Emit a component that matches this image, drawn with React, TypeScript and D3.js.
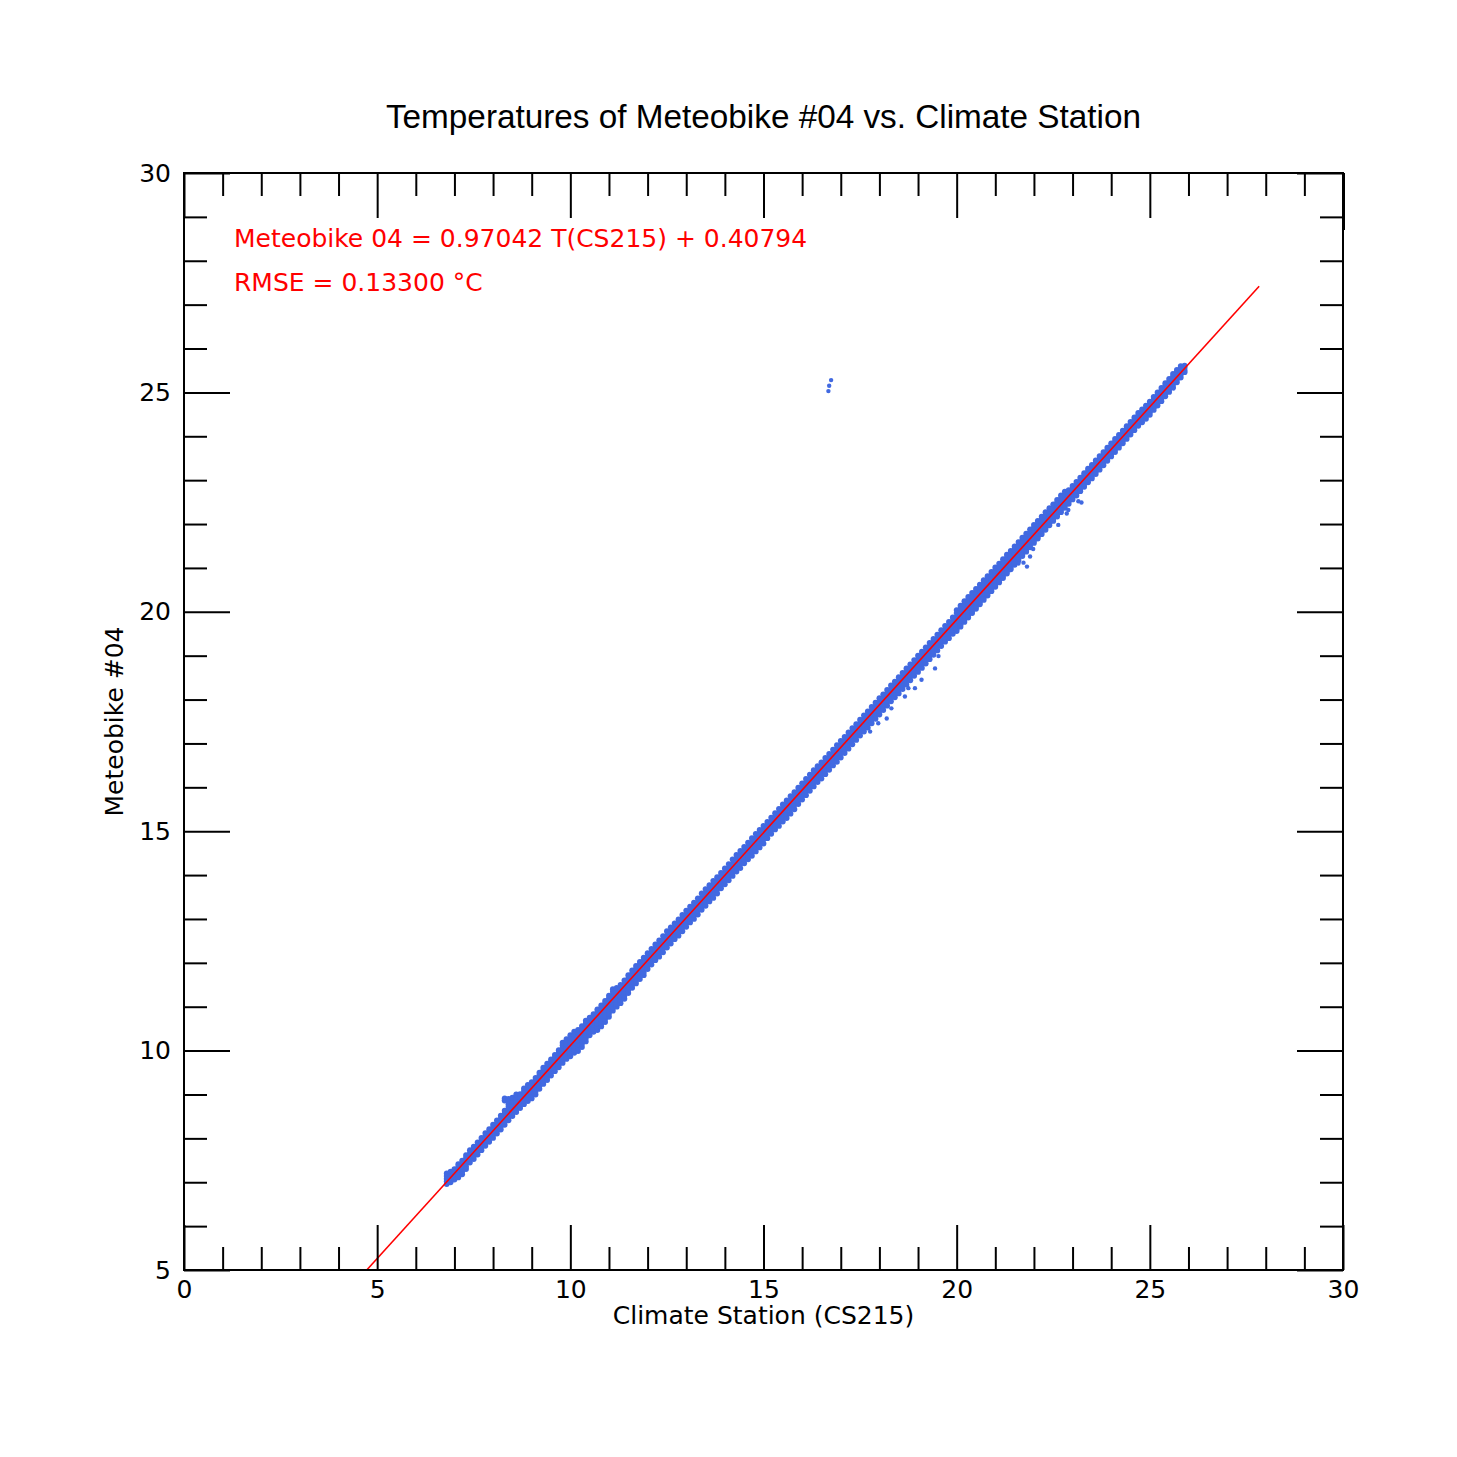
import { useEffect, useRef } from "react";
import * as d3 from "d3";

// Climate station temperature (first value) and the Meteobike readings logged at it
const bandRows: number[][] = [
  [6.8, 6.96, 7.02, 7.08, 7.14, 7.20], [6.9, 7.00, 7.06, 7.12, 7.18, 7.24], [7.0, 7.06, 7.12, 7.18, 7.24, 7.30],
  [7.1, 7.11, 7.17, 7.23, 7.29, 7.35, 7.41], [7.2, 7.18, 7.24, 7.30, 7.36, 7.43, 7.49], [7.3, 7.30, 7.36, 7.43, 7.50, 7.56, 7.62],
  [7.4, 7.45, 7.52, 7.59, 7.66, 7.73], [7.5, 7.53, 7.60, 7.67, 7.74, 7.81], [7.6, 7.63, 7.70, 7.77, 7.84, 7.91],
  [7.7, 7.73, 7.80, 7.87, 7.94, 8.01], [7.8, 7.83, 7.90, 7.97, 8.05, 8.12], [7.9, 7.92, 7.99, 8.06, 8.14, 8.21],
  [8.0, 8.01, 8.08, 8.16, 8.24, 8.31], [8.1, 8.11, 8.18, 8.26, 8.34, 8.41], [8.2, 8.20, 8.27, 8.36, 8.45, 8.52],
  [8.3, 8.31, 8.38, 8.47, 8.56, 8.63, 8.86, 8.91], [8.4, 8.41, 8.48, 8.56, 8.65, 8.72, 8.78, 8.84, 8.90],
  [8.5, 8.51, 8.58, 8.66, 8.75, 8.84, 8.93], [8.6, 8.60, 8.67, 8.75, 8.84, 8.94, 9.00], [8.7, 8.69, 8.76, 8.85, 8.94, 9.01],
  [8.8, 8.78, 8.85, 8.93, 9.01, 9.08, 9.14], [8.9, 8.85, 8.92, 9.00, 9.08, 9.16, 9.22], [9.0, 8.91, 8.98, 9.06, 9.14, 9.22, 9.28],
  [9.1, 9.00, 9.07, 9.15, 9.23, 9.32, 9.38], [9.2, 9.13, 9.20, 9.28, 9.36, 9.44, 9.50], [9.3, 9.24, 9.31, 9.39, 9.47, 9.55, 9.61],
  [9.4, 9.33, 9.40, 9.48, 9.56, 9.64, 9.70], [9.5, 9.43, 9.50, 9.58, 9.66, 9.74, 9.80], [9.6, 9.53, 9.60, 9.68, 9.76, 9.84, 9.90],
  [9.7, 9.62, 9.69, 9.77, 9.86, 9.95, 10.01], [9.8, 9.72, 9.79, 9.87, 9.96, 10.05, 10.12, 10.18],
  [9.9, 9.81, 9.88, 9.96, 10.05, 10.14, 10.20, 10.26], [10.0, 9.87, 9.94, 10.03, 10.12, 10.21, 10.29, 10.35],
  [10.1, 9.95, 10.02, 10.10, 10.19, 10.28, 10.37, 10.43], [10.2, 9.99, 10.06, 10.14, 10.23, 10.32, 10.41, 10.47],
  [10.3, 10.08, 10.15, 10.23, 10.32, 10.41, 10.50, 10.56], [10.4, 10.21, 10.28, 10.36, 10.45, 10.54, 10.62, 10.68],
  [10.5, 10.35, 10.42, 10.51, 10.60, 10.69, 10.75], [10.6, 10.43, 10.50, 10.59, 10.68, 10.77, 10.83],
  [10.7, 10.47, 10.54, 10.62, 10.70, 10.79, 10.88, 10.94], [10.8, 10.55, 10.62, 10.70, 10.79, 10.88, 10.97, 11.03],
  [10.9, 10.65, 10.72, 10.80, 10.89, 10.98, 11.07, 11.13], [11.0, 10.77, 10.84, 10.92, 11.01, 11.10, 11.19, 11.25],
  [11.1, 10.91, 10.98, 11.07, 11.16, 11.25, 11.34, 11.40], [11.2, 11.00, 11.07, 11.15, 11.24, 11.33, 11.43],
  [11.3, 11.08, 11.15, 11.23, 11.32, 11.41, 11.50], [11.4, 11.18, 11.25, 11.33, 11.42, 11.51, 11.60],
  [11.5, 11.31, 11.38, 11.46, 11.55, 11.64, 11.72], [11.6, 11.43, 11.50, 11.58, 11.67, 11.76, 11.83],
  [11.7, 11.53, 11.60, 11.68, 11.77, 11.86, 11.93], [11.8, 11.63, 11.70, 11.78, 11.87, 11.96, 12.02],
  [11.9, 11.72, 11.78, 11.87, 11.96, 12.05, 12.12],
  [12.0, 11.86, 11.95, 12.04, 12.13, 12.22], [12.1, 11.96, 12.05, 12.14, 12.23, 12.32],
  [12.2, 12.06, 12.15, 12.24, 12.33, 12.42], [12.3, 12.14, 12.23, 12.32, 12.41, 12.51],
  [12.4, 12.24, 12.33, 12.42, 12.51, 12.61], [12.5, 12.35, 12.44, 12.53, 12.62, 12.72],
  [12.6, 12.44, 12.53, 12.62, 12.72, 12.81], [12.7, 12.54, 12.63, 12.72, 12.81, 12.90],
  [12.8, 12.62, 12.71, 12.80, 12.90, 12.99], [12.9, 12.72, 12.81, 12.90, 13.00, 13.09],
  [13.0, 12.82, 12.91, 13.00, 13.10, 13.19], [13.1, 12.92, 13.01, 13.10, 13.19, 13.28],
  [13.2, 13.00, 13.09, 13.18, 13.27, 13.37], [13.3, 13.10, 13.19, 13.28, 13.37, 13.47],
  [13.4, 13.21, 13.30, 13.39, 13.48, 13.58], [13.5, 13.30, 13.39, 13.48, 13.58, 13.68],
  [13.6, 13.40, 13.49, 13.58, 13.67, 13.77], [13.7, 13.48, 13.57, 13.67, 13.77, 13.87],
  [13.8, 13.58, 13.67, 13.77, 13.86, 13.95], [13.9, 13.70, 13.79, 13.88, 13.97, 14.05],
  [14.0, 13.79, 13.88, 13.97, 14.06, 14.15], [14.1, 13.88, 13.97, 14.07, 14.16, 14.25],
  [14.2, 13.98, 14.07, 14.16, 14.26, 14.36], [14.3, 14.08, 14.17, 14.26, 14.36, 14.46],
  [14.4, 14.16, 14.26, 14.36, 14.46, 14.55], [14.5, 14.27, 14.36, 14.46, 14.55, 14.64],
  [14.6, 14.36, 14.46, 14.56, 14.65, 14.74], [14.7, 14.44, 14.54, 14.64, 14.74, 14.84],
  [14.8, 14.54, 14.64, 14.74, 14.84, 14.94], [14.9, 14.63, 14.73, 14.83, 14.93, 15.03],
  [15.0, 14.72, 14.82, 14.92, 15.02, 15.12], [15.1, 14.84, 14.93, 15.03, 15.12, 15.21],
  [15.2, 14.94, 15.03, 15.13, 15.22, 15.31], [15.3, 15.04, 15.13, 15.23, 15.32, 15.41],
  [15.4, 15.12, 15.22, 15.32, 15.42, 15.51], [15.5, 15.22, 15.32, 15.42, 15.52, 15.61],
  [15.6, 15.30, 15.40, 15.50, 15.60, 15.70], [15.7, 15.40, 15.50, 15.60, 15.70, 15.80],
  [15.8, 15.50, 15.60, 15.70, 15.80, 15.89], [15.9, 15.62, 15.71, 15.81, 15.90, 15.99],
  [16.0, 15.72, 15.81, 15.91, 16.00, 16.09], [16.1, 15.82, 15.91, 16.01, 16.10, 16.19],
  [16.2, 15.92, 16.01, 16.11, 16.20, 16.29], [16.3, 16.02, 16.11, 16.21, 16.30, 16.39],
  [16.4, 16.12, 16.21, 16.30, 16.39, 16.48], [16.5, 16.20, 16.29, 16.39, 16.48, 16.57],
  [16.6, 16.30, 16.39, 16.49, 16.58, 16.67], [16.7, 16.40, 16.49, 16.58, 16.67, 16.76],
  [16.8, 16.50, 16.59, 16.68, 16.77, 16.86], [16.9, 16.58, 16.68, 16.78, 16.87, 16.96],
  [17.0, 16.68, 16.78, 16.88, 16.97, 17.06], [17.1, 16.78, 16.88, 16.97, 17.06, 17.15],
  [17.2, 16.88, 16.98, 17.07, 17.16, 17.25], [17.3, 16.98, 17.08, 17.17, 17.26, 17.35],
  [17.4, 17.08, 17.17, 17.26, 17.35, 17.44], [17.5, 17.18, 17.27, 17.36, 17.45, 17.54],
  [17.6, 17.27, 17.36, 17.46, 17.55, 17.64], [17.7, 17.36, 17.45, 17.55, 17.64, 17.73],
  [17.8, 17.46, 17.55, 17.65, 17.74, 17.83], [17.9, 17.56, 17.65, 17.75, 17.84, 17.93],
  [18.0, 17.66, 17.75, 17.85, 17.94, 18.03], [18.1, 17.76, 17.85, 17.94, 18.03, 18.12],
  [18.2, 17.86, 17.95, 18.04, 18.13, 18.22], [18.3, 17.96, 18.05, 18.14, 18.23, 18.32],
  [18.4, 18.05, 18.14, 18.23, 18.32, 18.41], [18.5, 18.14, 18.23, 18.33, 18.42, 18.51],
  [18.6, 18.24, 18.33, 18.43, 18.52, 18.61], [18.7, 18.34, 18.43, 18.53, 18.62, 18.71],
  [18.8, 18.44, 18.53, 18.62, 18.71, 18.80], [18.9, 18.54, 18.63, 18.72, 18.81, 18.90],
  [19.0, 18.63, 18.72, 18.82, 18.91, 19.00], [19.1, 18.72, 18.81, 18.91, 19.00, 19.09],
  [19.2, 18.82, 18.91, 19.01, 19.10, 19.19], [19.3, 18.92, 19.01, 19.11, 19.20, 19.29],
  [19.4, 19.02, 19.11, 19.20, 19.29, 19.38], [19.5, 19.12, 19.21, 19.30, 19.39, 19.48],
  [19.6, 19.22, 19.31, 19.40, 19.49, 19.58], [19.7, 19.32, 19.41, 19.50, 19.59, 19.68],
  [19.8, 19.40, 19.49, 19.59, 19.68, 19.77], [19.9, 19.50, 19.59, 19.69, 19.78, 19.87],
  [20.0, 19.56, 19.61, 19.70, 19.79, 19.88, 19.97, 20.04], [20.1, 19.66, 19.71, 19.80, 19.89, 19.98, 20.07, 20.14],
  [20.2, 19.77, 19.82, 19.91, 20.00, 20.09, 20.17, 20.24], [20.3, 19.87, 19.92, 20.01, 20.10, 20.19, 20.27, 20.34],
  [20.4, 19.97, 20.02, 20.11, 20.20, 20.29, 20.36, 20.43], [20.5, 20.07, 20.12, 20.21, 20.30, 20.38, 20.45, 20.52],
  [20.6, 20.17, 20.22, 20.31, 20.40, 20.48, 20.55, 20.62], [20.7, 20.27, 20.32, 20.41, 20.50, 20.58, 20.65, 20.72],
  [20.8, 20.37, 20.42, 20.50, 20.59, 20.67, 20.74, 20.81], [20.9, 20.47, 20.52, 20.60, 20.69, 20.77, 20.84, 20.91],
  [21.0, 20.57, 20.62, 20.70, 20.79, 20.87, 20.94, 21.01], [21.1, 20.67, 20.72, 20.80, 20.88, 20.96, 21.03, 21.10],
  [21.2, 20.77, 20.82, 20.90, 20.98, 21.06, 21.13, 21.20], [21.3, 20.87, 20.92, 21.00, 21.08, 21.16, 21.23, 21.30],
  [21.4, 20.97, 21.02, 21.10, 21.17, 21.25, 21.32, 21.39], [21.5, 21.07, 21.12, 21.20, 21.27, 21.35, 21.42, 21.49],
  [21.6, 21.17, 21.22, 21.30, 21.37, 21.45, 21.52, 21.59], [21.7, 21.27, 21.32, 21.40, 21.47, 21.55, 21.62, 21.69],
  [21.8, 21.37, 21.42, 21.49, 21.56, 21.64, 21.71, 21.78], [21.9, 21.47, 21.52, 21.59, 21.66, 21.74, 21.81, 21.88],
  [22.0, 21.57, 21.62, 21.69, 21.76, 21.84, 21.91, 21.98], [22.1, 21.67, 21.72, 21.79, 21.86, 21.93, 22.00, 22.07],
  [22.2, 21.77, 21.82, 21.89, 21.96, 22.03, 22.10, 22.17], [22.3, 21.87, 21.92, 21.99, 22.06, 22.13, 22.20, 22.27],
  [22.4, 21.97, 22.02, 22.09, 22.15, 22.22, 22.29, 22.36], [22.5, 22.07, 22.12, 22.19, 22.25, 22.32, 22.38, 22.45],
  [22.6, 22.17, 22.22, 22.29, 22.35, 22.42, 22.48, 22.55], [22.7, 22.27, 22.32, 22.38, 22.45, 22.52, 22.58, 22.65],
  [22.8, 22.37, 22.42, 22.48, 22.54, 22.61, 22.67, 22.74],
  [22.9, 22.46, 22.52, 22.58, 22.64, 22.71, 22.77], [23.0, 22.56, 22.62, 22.68, 22.74, 22.81, 22.87],
  [23.1, 22.65, 22.71, 22.77, 22.83, 22.90, 22.96], [23.2, 22.75, 22.81, 22.87, 22.93, 23.00, 23.06],
  [23.3, 22.85, 22.91, 22.97, 23.03, 23.10, 23.16], [23.4, 22.95, 23.01, 23.07, 23.13, 23.20, 23.26],
  [23.5, 23.04, 23.10, 23.16, 23.22, 23.29, 23.35], [23.6, 23.14, 23.20, 23.26, 23.32, 23.39, 23.45],
  [23.7, 23.24, 23.30, 23.36, 23.42, 23.49, 23.55], [23.8, 23.34, 23.40, 23.46, 23.52, 23.58, 23.64],
  [23.9, 23.44, 23.50, 23.56, 23.62, 23.68, 23.74], [24.0, 23.54, 23.60, 23.66, 23.72, 23.78, 23.84],
  [24.1, 23.64, 23.70, 23.76, 23.82, 23.88, 23.94], [24.2, 23.74, 23.80, 23.86, 23.92, 23.97, 24.03],
  [24.3, 23.84, 23.90, 23.96, 24.02, 24.07, 24.13], [24.4, 23.94, 24.00, 24.06, 24.12, 24.17, 24.23],
  [24.5, 24.04, 24.10, 24.16, 24.22, 24.27, 24.33], [24.6, 24.14, 24.20, 24.26, 24.32, 24.37, 24.43],
  [24.7, 24.24, 24.30, 24.36, 24.42, 24.47, 24.53], [24.8, 24.32, 24.38, 24.44, 24.50, 24.55, 24.61],
  [24.9, 24.40, 24.46, 24.52, 24.58, 24.64, 24.70], [25.0, 24.49, 24.55, 24.61, 24.67, 24.73, 24.79],
  [25.1, 24.60, 24.66, 24.72, 24.78, 24.84, 24.90], [25.2, 24.70, 24.76, 24.82, 24.88, 24.94, 25.00],
  [25.3, 24.80, 24.86, 24.92, 24.98, 25.04, 25.10], [25.4, 24.91, 24.97, 25.03, 25.09, 25.15, 25.21],
  [25.5, 25.01, 25.07, 25.13, 25.19, 25.25, 25.31], [25.6, 25.12, 25.18, 25.24, 25.30, 25.36, 25.42],
  [25.7, 25.23, 25.29, 25.35, 25.41, 25.46, 25.51], [25.8, 25.34, 25.40, 25.46, 25.52, 25.56, 25.60],
  [25.9, 25.46, 25.50, 25.56, 25.61],
];

// scattered readings away from the main band
const strayCS = [
  17.76, 17.97, 18.19, 18.31, 18.66, 18.75, 18.92, 19.09, 19.44, 19.53,
  21.38, 21.60, 21.73, 21.82, 21.90, 21.98, 22.63, 22.85, 22.89, 23.15,
  23.23, 23.19, 25.13, 25.61, 16.75, 16.70, 16.68,
];
const strayBike = [
  17.27, 17.46, 17.57, 17.80, 18.07, 18.26, 18.26, 18.45, 18.71, 18.99,
  20.95, 21.10, 21.12, 21.03, 21.26, 21.43, 21.98, 22.24, 22.32, 22.52,
  22.49, 22.74, 24.67, 25.09, 25.28, 25.15, 25.03,
];

// regression line end points
const fitCS = [4.73, 27.83];
const fitBike = [5.0, 27.42];

const xMajorTicks = [0, 5, 10, 15, 20, 25, 30];
const xMinorTicks = [1, 2, 3, 4, 6, 7, 8, 9, 11, 12, 13, 14, 16, 17, 18, 19, 21, 22, 23, 24, 26, 27, 28, 29];
const yMajorTicks = [5, 10, 15, 20, 25, 30];
const yMinorTicks = [6, 7, 8, 9, 11, 12, 13, 14, 16, 17, 18, 19, 21, 22, 23, 24, 26, 27, 28, 29];

const W = 1457;
const H = 1457;
const left = 184;
const right = 1343;
const top = 173;
const bottom = 1270;
const FONT = "DejaVu Sans";

export default function App() {
  const ref = useRef<SVGSVGElement | null>(null);

  useEffect(() => {
    if (!ref.current) return;
    const svg = d3.select(ref.current);
    svg.selectAll("*").remove();

    const x = d3.scaleLinear().domain([0, 30]).range([left, right]);
    const y = d3.scaleLinear().domain([5, 30]).range([bottom, top]);

    const styleAxis = (g: any) => {
      g.select(".domain").remove();
      g.selectAll(".tick line").attr("stroke", "#000").attr("stroke-width", 2);
      g.attr("font-family", FONT).attr("font-size", 25);
      g.selectAll("text").attr("fill", "#000");
    };

    const bandPoints: [number, number][] = [];
    bandRows.forEach(([cs, ...bike]) => bike.forEach((b) => bandPoints.push([cs, b])));
    const strayPoints: [number, number][] = strayCS.map((cs, i) => [cs, strayBike[i]]);

    // dense band: points overlap, so a slightly larger dot fills it like the original
    svg.append("g")
      .selectAll("circle")
      .data(bandPoints)
      .enter()
      .append("circle")
      .attr("cx", (d) => x(d[0]))
      .attr("cy", (d) => y(d[1]))
      .attr("r", 2.9)
      .attr("fill", "royalblue");
    svg.append("g")
      .selectAll("circle")
      .data(strayPoints)
      .enter()
      .append("circle")
      .attr("cx", (d) => x(d[0]))
      .attr("cy", (d) => y(d[1]))
      .attr("r", 2.2)
      .attr("fill", "royalblue");

    const line = d3.line<number>()
      .x((d) => x(d))
      .y((_, i) => y(fitBike[i]));
    svg.append("path")
      .attr("d", line(fitCS))
      .attr("fill", "none")
      .attr("stroke", "red")
      .attr("stroke-width", 1.6);

    // bottom
    svg.append("g").attr("transform", `translate(0,${bottom})`)
      .call(d3.axisBottom(x).tickValues(xMajorTicks).tickSize(-45).tickPadding(10).tickFormat(d3.format("d")))
      .call(styleAxis);
    svg.append("g").attr("transform", `translate(0,${bottom})`)
      .call(d3.axisBottom(x).tickValues(xMinorTicks).tickSize(-23).tickFormat(() => ""))
      .call(styleAxis);
    // top
    svg.append("g").attr("transform", `translate(0,${top})`)
      .call(d3.axisTop(x).tickValues(xMajorTicks).tickSize(-45).tickFormat(() => ""))
      .call(styleAxis);
    svg.append("g").attr("transform", `translate(0,${top})`)
      .call(d3.axisTop(x).tickValues(xMinorTicks).tickSize(-23).tickFormat(() => ""))
      .call(styleAxis);
    // left
    svg.append("g").attr("transform", `translate(${left},0)`)
      .call(d3.axisLeft(y).tickValues(yMajorTicks).tickSize(-46).tickPadding(13).tickFormat(d3.format("d")))
      .call(styleAxis);
    svg.append("g").attr("transform", `translate(${left},0)`)
      .call(d3.axisLeft(y).tickValues(yMinorTicks).tickSize(-23).tickFormat(() => ""))
      .call(styleAxis);
    // right
    svg.append("g").attr("transform", `translate(${right},0)`)
      .call(d3.axisRight(y).tickValues(yMajorTicks).tickSize(-46).tickFormat(() => ""))
      .call(styleAxis);
    svg.append("g").attr("transform", `translate(${right},0)`)
      .call(d3.axisRight(y).tickValues(yMinorTicks).tickSize(-23).tickFormat(() => ""))
      .call(styleAxis);

    svg.append("rect")
      .attr("x", left).attr("y", top)
      .attr("width", right - left).attr("height", bottom - top)
      .attr("fill", "none").attr("stroke", "#000").attr("stroke-width", 2);
    svg.append("line")
      .attr("x1", right + 1).attr("x2", right + 1)
      .attr("y1", top).attr("y2", 230)
      .attr("stroke", "#000").attr("stroke-width", 2);

    svg.append("text")
      .attr("x", (left + right) / 2).attr("y", 128)
      .attr("text-anchor", "middle")
      .attr("font-family", "Liberation Sans").attr("font-size", 33.3)
      .text("Temperatures of Meteobike #04 vs. Climate Station");

    svg.append("text")
      .attr("x", (left + right) / 2).attr("y", 1324)
      .attr("text-anchor", "middle")
      .attr("font-family", FONT).attr("font-size", 25)
      .text("Climate Station (CS215)");

    svg.append("text")
      .attr("transform", `translate(123,${(top + bottom) / 2}) rotate(-90)`)
      .attr("text-anchor", "middle")
      .attr("font-family", FONT).attr("font-size", 25)
      .text("Meteobike #04");

    const notes = svg.append("g").attr("font-family", FONT).attr("font-size", 25).attr("fill", "red");
    notes.append("text").attr("x", 234).attr("y", 247).text("Meteobike 04 = 0.97042 T(CS215) + 0.40794");
    notes.append("text").attr("x", 234).attr("y", 291).text("RMSE = 0.13300 °C");
  }, []);

  return (
    <div style={{ position: "absolute", left: 0, top: 0, background: "#fff" }}>
      <svg ref={ref} width={W} height={H} />
    </div>
  );
}
